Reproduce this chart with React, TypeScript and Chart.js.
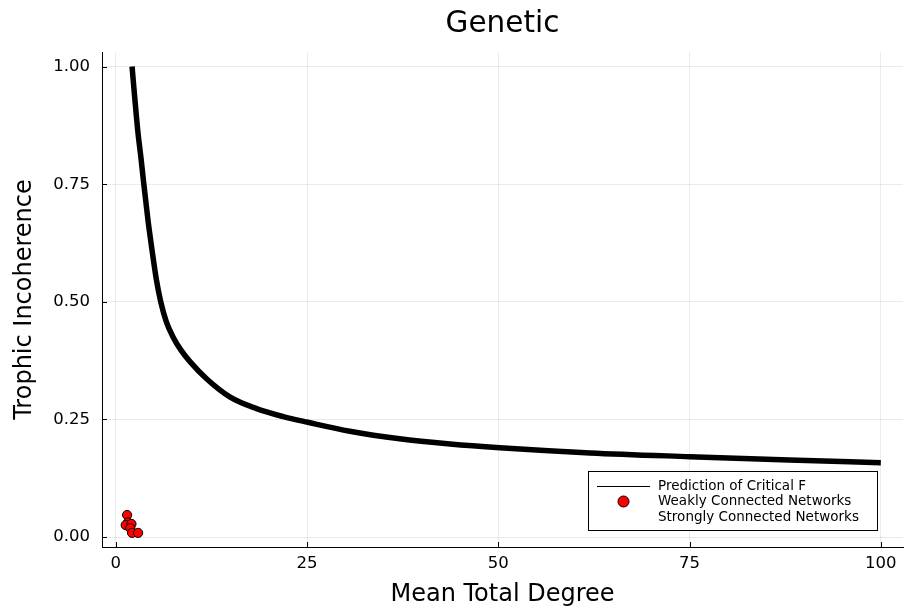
import React, { useEffect, useRef } from "react";
import { Chart, registerables } from "chart.js";

Chart.register(...registerables);

const TITLE = "Genetic";
const X_LABEL = "Mean Total Degree";
const Y_LABEL = "Trophic Incoherence";

const curveK = [2.13, 2.5, 2.9, 3.3, 3.6, 4.2, 4.8, 5.3, 5.85, 6.6, 7.5, 8.5, 9.7, 11.9, 14.9, 18.4, 21.9, 25.1, 30.6, 37.1, 43.7, 50.2, 62, 75, 88, 100];
const curveF = [1.0, 0.93, 0.86, 0.805, 0.76, 0.675, 0.603, 0.548, 0.502, 0.458, 0.425, 0.398, 0.373, 0.336, 0.298, 0.273, 0.256, 0.244, 0.225, 0.209, 0.198, 0.19, 0.179, 0.171, 0.164, 0.158];

const weakK = [1.48, 1.61, 1.3, 2.05, 1.9, 2.13, 2.92];
const weakF = [0.047, 0.031, 0.0255, 0.028, 0.019, 0.009, 0.009];

const strongK: number[] = [];
const strongF: number[] = [];

const xTicks = [0, 25, 50, 75, 100];
const yTicks = [0, 0.25, 0.5, 0.75, 1.0];
const seriesNames = ["Prediction of Critical F", "Weakly Connected Networks", "Strongly Connected Networks"];

const FONT = "'DejaVu Sans', sans-serif";

const decorPlugin = {
  id: "decor",
  afterDraw(chart: any) {
    const ctx = chart.ctx as CanvasRenderingContext2D;
    const { chartArea } = chart;
    const xs = chart.scales.x;
    const ys = chart.scales.y;
    ctx.save();
    ctx.strokeStyle = "#000";
    ctx.lineWidth = 1;
    xTicks.forEach((v) => {
      const px = Math.round(xs.getPixelForValue(v)) + 0.5;
      ctx.beginPath();
      ctx.moveTo(px, chartArea.bottom);
      ctx.lineTo(px, chartArea.bottom - 5);
      ctx.stroke();
    });
    yTicks.forEach((v) => {
      const py = Math.round(ys.getPixelForValue(v)) + 0.5;
      ctx.beginPath();
      ctx.moveTo(chartArea.left, py);
      ctx.lineTo(chartArea.left + 5, py);
      ctx.stroke();
    });
    const cx = (chartArea.left + chartArea.right) / 2;
    const cy = (chartArea.top + chartArea.bottom) / 2;
    ctx.fillStyle = "#000";
    ctx.textAlign = "center";
    ctx.textBaseline = "alphabetic";
    ctx.font = `29.5px ${FONT}`;
    ctx.fillText(TITLE, cx, 32);
    ctx.font = `24px ${FONT}`;
    ctx.fillText(X_LABEL, cx, 601);
    ctx.save();
    ctx.translate(31, cy);
    ctx.rotate(-Math.PI / 2);
    ctx.fillText(Y_LABEL, 0, 0);
    ctx.restore();
    // legend
    const lx = 588, ly = 471, lw = 289, lh = 59;
    ctx.fillStyle = "#fff";
    ctx.fillRect(lx, ly, lw, lh);
    ctx.strokeStyle = "#000";
    ctx.lineWidth = 1;
    ctx.strokeRect(lx + 0.5, ly + 0.5, lw, lh);
    const rows = [486, 501.5, 517];
    ctx.beginPath();
    ctx.lineWidth = 1;
    ctx.moveTo(597, rows[0] + 0.5);
    ctx.lineTo(650, rows[0] + 0.5);
    ctx.stroke();
    ctx.beginPath();
    ctx.arc(623.5, rows[1], 5.5, 0, Math.PI * 2);
    ctx.fillStyle = "#ff0000";
    ctx.fill();
    ctx.lineWidth = 1;
    ctx.strokeStyle = "#000";
    ctx.stroke();
    ctx.fillStyle = "#000";
    ctx.font = `13.5px ${FONT}`;
    ctx.textAlign = "left";
    ctx.textBaseline = "middle";
    seriesNames.forEach((n, i) => ctx.fillText(n, 658, rows[i]));
    ctx.restore();
  },
};

export default function App() {
  const ref = useRef<HTMLCanvasElement>(null);
  useEffect(() => {
    document.body.style.margin = "0";
    const canvas = ref.current!;
    const chart = new Chart(canvas, {
      type: "scatter",
      data: {
        datasets: [
          {
            label: seriesNames[0],
            type: "line",
            data: curveK.map((k, i) => ({ x: k, y: curveF[i] })),
            borderColor: "#000",
            borderWidth: 5.5,
            pointRadius: 0,
            cubicInterpolationMode: "monotone",
            fill: false,
            borderCapStyle: "butt",
          } as any,
          {
            label: seriesNames[1],
            data: weakK.map((k, i) => ({ x: k, y: weakF[i] })),
            backgroundColor: "#ff0000",
            borderColor: "#000",
            borderWidth: 1,
            pointRadius: 4.6,
          },
          {
            label: seriesNames[2],
            data: strongK.map((k, i) => ({ x: k, y: strongF[i] })),
            backgroundColor: "#0000ff",
            borderColor: "#000",
            pointRadius: 4.6,
          },
        ],
      },
      options: {
        responsive: false,
        devicePixelRatio: 1,
        animation: false,
        layout: { padding: { top: 52, right: 1, left: 0, bottom: 0 } },
        plugins: { legend: { display: false }, title: { display: false }, tooltip: { enabled: false } },
        scales: {
          x: {
            type: "linear",
            min: -1.8,
            max: 102.9,
            afterBuildTicks: (s: any) => {
              s.ticks = xTicks.map((v) => ({ value: v }));
            },
            afterFit: (s: any) => {
              s.height = 66;
              s.paddingLeft = 0;
              s.paddingRight = 0;
            },
            ticks: { font: { family: FONT, size: 16.5 }, color: "#000", padding: 7, maxRotation: 0, callback: (v: any) => String(v) },
            grid: { color: "rgba(0,0,0,0.08)", drawTicks: false },
            border: { color: "#000", width: 1 },
          },
          y: {
            type: "linear",
            min: -0.021,
            max: 1.031,
            afterBuildTicks: (s: any) => {
              s.ticks = yTicks.map((v) => ({ value: v }));
            },
            afterFit: (s: any) => {
              s.width = 102;
              s.paddingTop = 0;
              s.paddingBottom = 0;
            },
            ticks: { font: { family: FONT, size: 16.5 }, color: "#000", padding: 12, callback: (v: any) => Number(v).toFixed(2) },
            grid: { color: "rgba(0,0,0,0.08)", drawTicks: false },
            border: { color: "#000", width: 1 },
          },
        },
      },
      plugins: [
        decorPlugin,
        {
          id: "fixArea",
          afterLayout(chart: any) {
            const area = chart.chartArea;
            area.left = 102;
            area.right = 903;
            area.top = 52;
            area.bottom = 547;
            area.width = area.right - area.left;
            area.height = area.bottom - area.top;
            const xs = chart.scales.x;
            const ys = chart.scales.y;
            xs.left = 102;
            xs.right = 903;
            xs.width = 801;
            ys.top = 52;
            ys.bottom = 547;
            ys.height = 495;
            xs.configure();
            ys.configure();
          },
        },
      ],
    });
    return () => chart.destroy();
  }, []);
  return <canvas ref={ref} width={904} height={613} style={{ display: "block", width: 904, height: 613 }} />;
}
